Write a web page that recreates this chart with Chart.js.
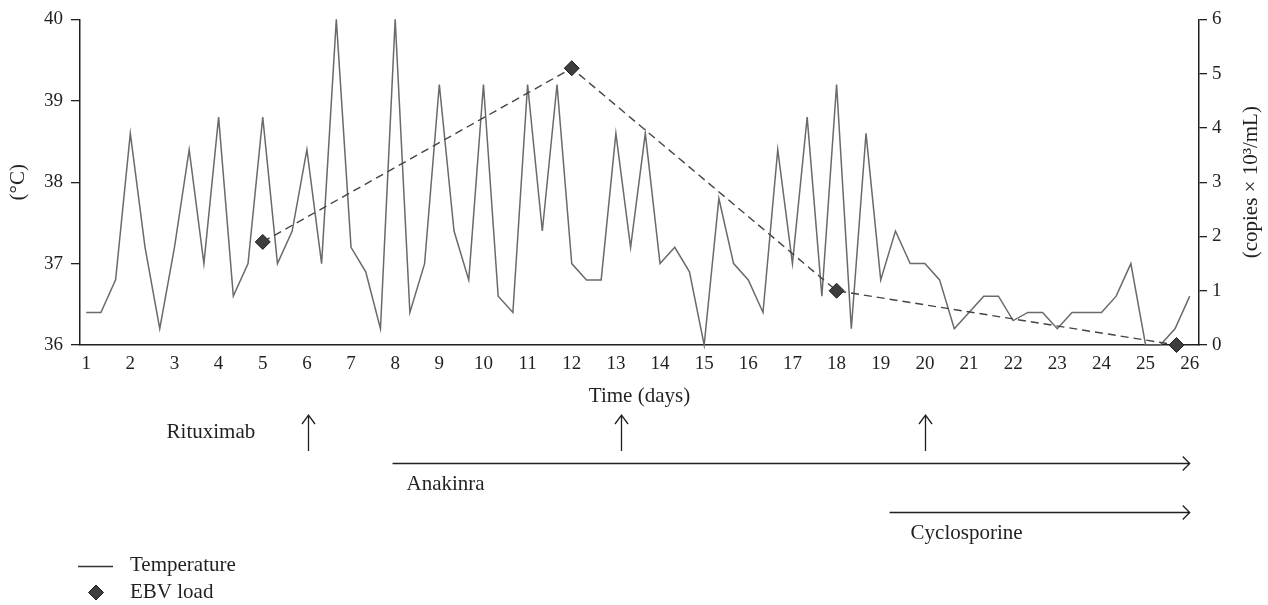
<!DOCTYPE html>
<html>
<head>
<meta charset="utf-8">
<title>Temperature and EBV load</title>
<script src="https://cdn.jsdelivr.net/npm/chart.js@4"></script>
<style>
  html, body { margin: 0; padding: 0; background: #fff; }
  #wrap { width: 1268px; height: 605px; }
</style>
</head>
<body>
<div id="wrap"><canvas id="feverChart" width="1268" height="605"></canvas></div>
<script>
// Days on the x axis (also the tick labels)
const days = [1, 2, 3, 4, 5, 6, 7, 8, 9, 10, 11, 12, 13, 14, 15, 16, 17, 18, 19, 20, 21, 22, 23, 24, 25, 26];

// Temperature (°C), three readings per day (last day: one)
const temperature = [
  [36.4, 36.4, 36.8], [38.6, 37.2, 36.2], [37.2, 38.4, 37.0], [38.8, 36.6, 37.0],
  [38.8, 37.0, 37.4], [38.4, 37.0, 40.0], [37.2, 36.9, 36.2], [40.0, 36.4, 37.0],
  [39.2, 37.4, 36.8], [39.2, 36.6, 36.4], [39.2, 37.4, 39.2], [37.0, 36.8, 36.8],
  [38.6, 37.2, 38.6], [37.0, 37.2, 36.9], [36.0, 37.8, 37.0], [36.8, 36.4, 38.4],
  [37.0, 38.8, 36.6], [39.2, 36.2, 38.6], [36.8, 37.4, 37.0], [37.0, 36.8, 36.2],
  [36.4, 36.6, 36.6], [36.3, 36.4, 36.4], [36.2, 36.4, 36.4], [36.4, 36.6, 37.0],
  [36.0, 36.0, 36.2], [36.6]
];

// EBV load (copies x 10^3/mL)
const ebvDays = [5, 12, 18, 25.7];
const ebvLoad = [1.9, 5.1, 1.0, 0];

const tempTicks = [36, 37, 38, 39, 40];
const ebvTicks = [0, 1, 2, 3, 4, 5, 6];

// Treatments
const rituximabDays = [6.03, 13.11, 20];
const anakinraStart = 7.94;
const cyclosporineStart = 19.2;
const treatmentEnd = 26;

const ink = "#231f20";
const serif = '"Liberation Serif", "DejaVu Serif", serif';

const tempPoints = [];
days.forEach((d, i) => {
  temperature[i].forEach((t, j) => tempPoints.push({ x: d + j / 3, y: t }));
});
const ebvPoints = ebvDays.map((d, i) => ({ x: d, y: ebvLoad[i] }));

function diamond(ctx, cx, cy, r) {
  ctx.beginPath();
  ctx.moveTo(cx - r, cy);
  ctx.lineTo(cx, cy - r);
  ctx.lineTo(cx + r, cy);
  ctx.lineTo(cx, cy + r);
  ctx.closePath();
  ctx.fill();
  ctx.stroke();
}

// Right axis title, treatment arrows and legend
const treatmentPlugin = {
  id: "treatments",
  afterDraw(chart) {
    const { ctx } = chart;
    const x = chart.scales.x;
    const yEbv = chart.scales.yEbv;
    ctx.save();
    ctx.fillStyle = ink;
    ctx.strokeStyle = ink;
    ctx.lineWidth = 1.3;
    ctx.font = "21px " + serif;
    ctx.textBaseline = "middle";

    // right axis title, reading bottom to top
    ctx.save();
    ctx.translate(yEbv.right - 17, (yEbv.top + yEbv.bottom) / 2);
    ctx.rotate(-Math.PI / 2);
    ctx.textAlign = "center";
    ctx.fillText("(copies \u00d7 10\u00b3/mL)", 0, 0);
    ctx.restore();

    // Rituximab
    rituximabDays.forEach((d) => {
      const px = Math.round(x.getPixelForValue(d)) + 0.5;
      ctx.beginPath();
      ctx.moveTo(px, 451);
      ctx.lineTo(px, 415);
      ctx.moveTo(px - 6.5, 424);
      ctx.lineTo(px, 415);
      ctx.lineTo(px + 6.5, 424);
      ctx.stroke();
    });
    ctx.textAlign = "right";
    ctx.fillText("Rituximab", x.getPixelForValue(rituximabDays[0]) - 53, 432);

    // continuous treatments
    const spans = [
      { label: "Anakinra", from: anakinraStart, y: 463.5, textGap: 14 },
      { label: "Cyclosporine", from: cyclosporineStart, y: 512.5, textGap: 21 },
    ];
    ctx.textAlign = "left";
    spans.forEach((s) => {
      const x0 = x.getPixelForValue(s.from);
      const x1 = x.getPixelForValue(treatmentEnd);
      ctx.beginPath();
      ctx.moveTo(x0, s.y);
      ctx.lineTo(x1, s.y);
      ctx.moveTo(x1 - 7, s.y - 7);
      ctx.lineTo(x1, s.y);
      ctx.lineTo(x1 - 7, s.y + 7);
      ctx.stroke();
      ctx.fillText(s.label, x0 + s.textGap, s.y + 21);
    });

    // legend
    ctx.strokeStyle = "#333";
    ctx.beginPath();
    ctx.moveTo(78, 566.5);
    ctx.lineTo(113, 566.5);
    ctx.stroke();
    ctx.fillText("Temperature", 130, 565);
    ctx.fillStyle = "#3d3d3d";
    ctx.strokeStyle = "#1e1e1e";
    ctx.lineWidth = 1;
    diamond(ctx, 96, 592.5, 7.5);
    ctx.fillStyle = ink;
    ctx.fillText("EBV load", 130, 592);
    ctx.restore();
  },
};

const tickFont = { family: serif, size: 19 };
const titleFont = { family: serif, size: 21 };

const ctx = document.getElementById("feverChart").getContext("2d");
new Chart(ctx, {
  type: "line",
  data: {
    datasets: [
      {
        label: "EBV load",
        data: ebvPoints,
        yAxisID: "yEbv",
        borderColor: "#444",
        borderWidth: 1.4,
        borderDash: [8, 5],
        pointStyle: "rectRot",
        pointRadius: 7.5,
        pointBackgroundColor: "#3d3d3d",
        pointBorderColor: "#1e1e1e",
        pointBorderWidth: 1,
        order: 0,
        clip: false,
      },
      {
        label: "Temperature",
        data: tempPoints,
        yAxisID: "y",
        borderColor: "#6a6a6a",
        borderWidth: 1.5,
        pointRadius: 0,
        tension: 0,
        order: 1,
        clip: false,
      },
    ],
  },
  options: {
    responsive: false,
    animation: false,
    events: [],
    layout: { padding: { top: 18, bottom: 196, left: 0, right: 0 } },
    plugins: {
      legend: { display: false },
      tooltip: { enabled: false },
    },
    scales: {
      x: {
        type: "linear",
        min: 0.86,
        max: 26.21,
        afterBuildTicks: (s) => { s.ticks = days.map((v) => ({ value: v })); },
        afterFit: (s) => { s.height = 64; },
        grid: { display: false, drawTicks: false },
        border: { display: true, color: ink, width: 1.5 },
        ticks: { color: ink, font: tickFont, padding: 8, autoSkip: false, maxRotation: 0 },
        title: { display: true, text: "Time (days)", color: ink, font: titleFont, padding: 0 },
      },
      y: {
        position: "left",
        min: 36,
        max: 40,
        afterBuildTicks: (s) => { s.ticks = tempTicks.map((v) => ({ value: v })); },
        afterFit: (s) => { s.width = 80; },
        grid: { drawOnChartArea: false, drawTicks: true, tickLength: 9, color: ink, lineWidth: 1.3 },
        border: { display: true, color: ink, width: 1.5 },
        ticks: { color: ink, font: tickFont, padding: 8 },
        title: { display: true, text: "(\u00b0C)", color: ink, font: titleFont, padding: { top: 6, bottom: 0 } },
      },
      yEbv: {
        position: "right",
        min: 0,
        max: 6,
        afterBuildTicks: (s) => { s.ticks = ebvTicks.map((v) => ({ value: v })); },
        afterFit: (s) => { s.width = 69; },
        grid: { drawOnChartArea: false, drawTicks: true, tickLength: 8, color: ink, lineWidth: 1.3 },
        border: { display: true, color: ink, width: 1.5 },
        ticks: { color: ink, font: tickFont, padding: 5 },
      },
    },
  },
  plugins: [treatmentPlugin],
});
</script>
</body>
</html>
